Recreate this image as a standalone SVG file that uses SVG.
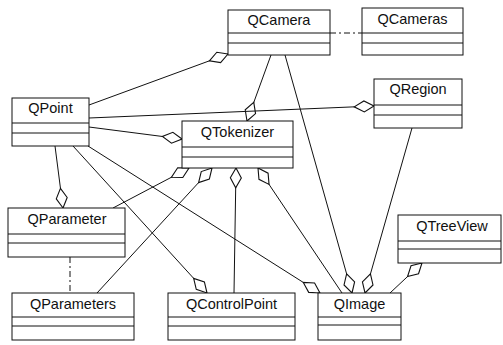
<svg xmlns="http://www.w3.org/2000/svg" width="503" height="345" viewBox="0 0 503 345">
  <style>
    .box { fill: #fff; stroke: #111; stroke-width: 1; }
    .sep { stroke: #111; stroke-width: 1; }
    .lbl { font-family: "Liberation Sans", Arial, sans-serif; font-size: 14.5px; fill: #111; text-anchor: middle; }
    .edge { stroke: #111; stroke-width: 1; fill: none; }
    .agg { marker-end: url(#diamond); }
    .dep { stroke-dasharray: 6 3 2 3; }
  </style>
  <defs>
    <!-- hollow aggregation diamond, tip on the owning class -->
    <marker id="diamond" markerUnits="userSpaceOnUse" markerWidth="22" markerHeight="14" viewBox="-19 -6 20 12" refX="0" refY="0" orient="auto">
      <path d="M0,0 L-9,-5 L-18,0 L-9,5 Z" fill="#fff" stroke="#111" stroke-width="1"/>
    </marker>
  </defs>

  <rect width="503" height="345" fill="#fff"/>

  <g id="connectors">
    <line class="edge agg" x1="89" y1="105" x2="228" y2="54"/>
    <line class="edge dep" x1="330" y1="33" x2="362" y2="33"/>
    <line class="edge agg" x1="271" y1="55" x2="247" y2="121"/>
    <line class="edge agg" x1="89" y1="118" x2="374" y2="106"/>
    <line class="edge agg" x1="89" y1="127" x2="182" y2="139"/>
    <line class="edge agg" x1="55" y1="146" x2="63" y2="208"/>
    <line class="edge agg" x1="73" y1="146" x2="207" y2="293"/>
    <line class="edge agg" x1="88" y1="146" x2="320" y2="293"/>
    <line class="edge agg" x1="113" y1="208" x2="189" y2="168"/>
    <line class="edge agg" x1="97" y1="293" x2="212" y2="168"/>
    <line class="edge agg" x1="234" y1="293" x2="236" y2="168"/>
    <line class="edge agg" x1="342" y1="293" x2="258" y2="168"/>
    <line class="edge agg" x1="285" y1="55" x2="352" y2="293"/>
    <line class="edge agg" x1="412" y1="128" x2="365" y2="293"/>
    <line class="edge agg" x1="390" y1="293" x2="422" y2="263"/>
    <line class="edge dep" x1="70" y1="257" x2="70" y2="293"/>
  </g>

  <g id="QCamera">
    <rect class="box" x="228" y="10" width="102" height="45"/>
    <line class="sep" x1="228" y1="33" x2="330" y2="33"/>
    <line class="sep" x1="228" y1="43" x2="330" y2="43"/>
    <text class="lbl" x="279" y="25">QCamera</text>
  </g>

  <g id="QCameras">
    <rect class="box" x="362" y="8" width="101" height="47"/>
    <line class="sep" x1="362" y1="33" x2="463" y2="33"/>
    <line class="sep" x1="362" y1="43" x2="463" y2="43"/>
    <text class="lbl" x="412.5" y="24">QCameras</text>
  </g>

  <g id="QRegion">
    <rect class="box" x="374" y="79" width="88" height="49"/>
    <line class="sep" x1="374" y1="105" x2="462" y2="105"/>
    <line class="sep" x1="374" y1="115" x2="462" y2="115"/>
    <text class="lbl" x="418" y="94">QRegion</text>
  </g>

  <g id="QPoint">
    <rect class="box" x="12" y="98" width="77" height="48"/>
    <line class="sep" x1="12" y1="123" x2="89" y2="123"/>
    <line class="sep" x1="12" y1="133" x2="89" y2="133"/>
    <text class="lbl" x="50.5" y="113">QPoint</text>
  </g>

  <g id="QTokenizer">
    <rect class="box" x="182" y="121" width="111" height="47"/>
    <line class="sep" x1="182" y1="147" x2="293" y2="147"/>
    <line class="sep" x1="182" y1="157" x2="293" y2="157"/>
    <text class="lbl" x="237.5" y="137">QTokenizer</text>
  </g>

  <g id="QParameter">
    <rect class="box" x="8" y="208" width="117" height="49"/>
    <line class="sep" x1="8" y1="234" x2="125" y2="234"/>
    <line class="sep" x1="8" y1="243" x2="125" y2="243"/>
    <text class="lbl" x="67" y="224">QParameter</text>
  </g>

  <g id="QTreeView">
    <rect class="box" x="398" y="215" width="103" height="48"/>
    <line class="sep" x1="398" y1="241" x2="501" y2="241"/>
    <line class="sep" x1="398" y1="249" x2="501" y2="249"/>
    <text class="lbl" x="452" y="231">QTreeView</text>
  </g>

  <g id="QParameters">
    <rect class="box" x="12" y="293" width="122" height="47"/>
    <line class="sep" x1="12" y1="317" x2="134" y2="317"/>
    <line class="sep" x1="12" y1="326" x2="134" y2="326"/>
    <text class="lbl" x="73" y="309">QParameters</text>
  </g>

  <g id="QControlPoint">
    <rect class="box" x="168" y="293" width="127" height="47"/>
    <line class="sep" x1="168" y1="317" x2="295" y2="317"/>
    <line class="sep" x1="168" y1="326" x2="295" y2="326"/>
    <text class="lbl" x="231.5" y="309">QControlPoint</text>
  </g>

  <g id="QImage">
    <rect class="box" x="318" y="293" width="83" height="47"/>
    <line class="sep" x1="318" y1="317" x2="401" y2="317"/>
    <line class="sep" x1="318" y1="325" x2="401" y2="325"/>
    <text class="lbl" x="359.5" y="309">QImage</text>
  </g>
</svg>
